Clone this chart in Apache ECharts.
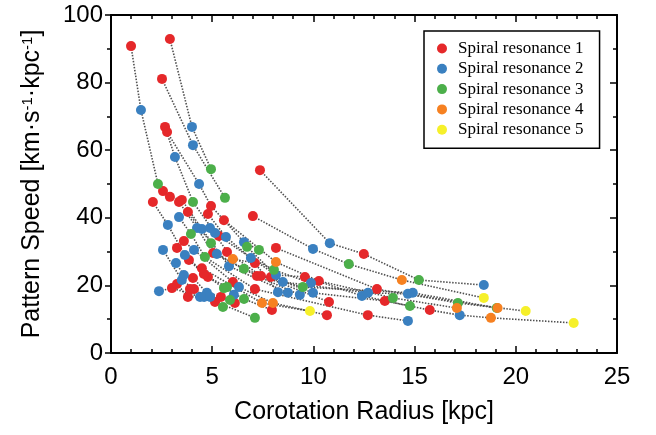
<!DOCTYPE html>
<html>
<head>
<meta charset="utf-8">
<script src="https://cdn.jsdelivr.net/npm/echarts@6/dist/echarts.min.js"></script>
<style>
  html, body { margin: 0; padding: 0; background: #fff; }
  #chart { width: 656px; height: 435px; }
</style>
</head>
<body>
<div id="chart"></div>
<script>
// [radius kpc, pattern speed, galaxy id] - points of the same galaxy are joined by a dotted line
const res1 = [
  [0.99, 90.8, 1], [2.91, 92.9, 2], [2.52, 81.1, 3], [2.67, 66.9, 4],
  [2.77, 65.4, 5], [4.94, 43.5, 5], [7.36, 54.1, 6], [12.49, 29.3, 6],
  [7.01, 40.5, 7], [5.58, 39.3, 8], [10.27, 21.3, 8], [8.15, 31.1, 9],
  [13.14, 18.9, 9], [4.79, 41.1, 10], [5.33, 34.6, 11], [9.58, 22.5, 11],
  [7.9, 22.5, 12], [13.53, 15.4, 12], [15.75, 12.7, 12], [5.73, 29.9, 14],
  [7.41, 22.8, 14], [2.57, 47.9, 15], [2.91, 46.2, 15], [3.5, 45.3, 15],
  [2.07, 44.7, 16], [4.79, 22.5, 16], [3.36, 44.7, 17], [5.04, 29.6, 17],
  [7.21, 22.8, 17], [3.8, 41.7, 18], [10.77, 15.1, 18], [7.11, 18.9, 19],
  [12.69, 11.2, 19], [3.6, 33.1, 20], [6.02, 21.0, 20], [10.67, 11.2, 20],
  [3.26, 31.1, 21], [3.85, 27.5, 21], [4.59, 23.4, 21], [7.95, 12.7, 21],
  [4.49, 25.1, 22], [4.1, 18.9, 23], [5.14, 15.1, 23], [4.05, 22.2, 24],
  [5.43, 16.6, 24], [6.12, 14.8, 24], [3.01, 19.2, 25], [3.26, 20.4, 26],
  [3.8, 16.6, 26], [7.11, 26.6, 27], [3.9, 18.9, 28]
];
const res2 = [
  [1.48, 71.9, 1], [4.0, 66.9, 2], [4.05, 61.5, 3], [3.16, 58.0, 4],
  [5.14, 35.5, 4], [4.35, 50.0, 5], [6.57, 32.8, 5], [10.81, 32.5, 6],
  [18.42, 20.1, 6], [9.98, 30.8, 7], [5.68, 34.3, 10], [6.91, 28.1, 10],
  [9.88, 20.7, 10], [8.15, 23.1, 11], [12.4, 16.9, 11], [9.98, 17.8, 12],
  [17.23, 11.2, 12], [8.49, 21.0, 13], [12.7, 17.8, 13], [14.67, 17.5, 13],
  [14.91, 17.8, 14], [4.49, 36.7, 15], [5.83, 25.7, 15], [8.74, 17.8, 15],
  [2.81, 37.9, 16], [3.65, 29.0, 16], [6.07, 17.2, 16], [4.25, 37.0, 17],
  [9.33, 17.2, 17], [5.23, 29.3, 18], [3.36, 40.2, 19], [14.67, 9.5, 19],
  [4.1, 30.5, 20], [6.32, 19.5, 20], [2.57, 30.5, 23], [3.5, 21.6, 23],
  [3.21, 26.6, 24], [3.6, 23.1, 24], [4.74, 17.8, 24], [2.37, 18.3, 25],
  [4.4, 16.6, 25], [4.6, 16.6, 26], [4.89, 37.0, 27], [8.25, 18.0, 27],
  [4.9, 16.6, 28]
];
const res3 = [
  [2.32, 50.0, 1], [4.94, 54.4, 2], [5.63, 45.9, 3], [4.05, 44.7, 4],
  [7.31, 30.5, 5], [15.21, 21.6, 6], [11.75, 26.3, 7], [13.93, 16.3, 8],
  [17.14, 14.8, 9], [8.05, 24.6, 10], [14.77, 13.9, 11], [6.72, 31.4, 13],
  [19.06, 13.3, 13], [9.48, 19.5, 14], [5.73, 19.5, 16], [4.94, 32.5, 18],
  [6.57, 24.9, 18], [3.95, 35.2, 19], [4.64, 28.4, 19], [5.58, 19.2, 21],
  [6.57, 16.0, 21], [5.53, 13.6, 23], [5.88, 15.7, 24], [7.11, 10.4, 26]
];
const res4 = [
  [14.37, 21.6, 7], [8.15, 26.9, 8], [17.09, 13.3, 8], [18.77, 10.4, 12],
  [19.1, 13.3, 14], [8.0, 14.8, 20], [7.46, 14.8, 22], [6.02, 27.8, 27]
];
const res5 = [
  [18.42, 16.3, 7], [20.49, 12.4, 9], [22.86, 8.9, 12], [9.83, 12.4, 22]
];

const names = ['Spiral resonance 1', 'Spiral resonance 2', 'Spiral resonance 3',
  'Spiral resonance 4', 'Spiral resonance 5'];
const colors = ['#e5282a', '#3a80c0', '#4caf4a', '#f68121', '#f6f02a'];
const groups = [res1, res2, res3, res4, res5];

// join each galaxy's resonances, ordered by radius
let galaxies = {};
groups.forEach(g => g.forEach(p => {
  (galaxies[p[2]] = galaxies[p[2]] || []).push([p[0], p[1]]);
}));

let series = [];
Object.keys(galaxies).forEach(id => {
  let pts = galaxies[id].sort((a, b) => a[0] - b[0]);
  series.push({
    type: 'line',
    data: pts,
    symbol: 'none',
    silent: true,
    z: 1,
    lineStyle: { color: '#505050', width: 1.6, type: [1.5, 1.5] }
  });
});
groups.forEach((g, i) => {
  series.push({
    name: names[i],
    type: 'scatter',
    data: g.map(p => [p[0], p[1]]),
    symbol: 'circle',
    symbolSize: 10,
    z: 3,
    itemStyle: { color: colors[i], opacity: 1 }
  });
});

const sans = 'Liberation Sans';
const line = { show: true, onZero: false, lineStyle: { color: '#000', width: 2 } };

let chart = echarts.init(document.getElementById('chart'));
chart.setOption({
  animation: false,
  grid: { left: 111, right: 39, top: 15, bottom: 82 },
  legend: {
    data: names,
    orient: 'vertical',
    left: 424,
    top: 31,
    padding: [9, 16, 10, 13],
    itemWidth: 22,
    itemHeight: 10,
    itemGap: 3.3,
    icon: 'circle',
    backgroundColor: '#fff',
    borderColor: '#000',
    borderWidth: 1.5,
    textStyle: { fontFamily: 'Liberation Serif', fontSize: 17, color: '#000', lineHeight: 17 }
  },
  xAxis: [{
    type: 'value', min: 0, max: 25, interval: 5,
    name: 'Corotation Radius [kpc]',
    nameLocation: 'middle', nameGap: 47,
    nameTextStyle: { fontFamily: sans, fontSize: 25, color: '#000' },
    axisLine: line,
    axisTick: { inside: true, length: 7, lineStyle: { color: '#000', width: 1.5 } },
    minorTick: { show: true, splitNumber: 5, length: 4, lineStyle: { color: '#000', width: 1.5 } },
    splitLine: { show: false },
    axisLabel: { fontFamily: sans, fontSize: 24, color: '#000', margin: 12 }
  }, {
    type: 'value', min: 0, max: 25, interval: 5, position: 'top',
    axisLine: line,
    axisTick: { inside: true, length: 7, lineStyle: { color: '#000', width: 1.5 } },
    minorTick: { show: true, splitNumber: 5, length: 4, lineStyle: { color: '#000', width: 1.5 } },
    splitLine: { show: false },
    axisLabel: { show: false }
  }],
  yAxis: [{
    type: 'value', min: 0, max: 100, interval: 20,
    name: '{a|Pattern Speed [km·s}{s|-1}{a|·kpc}{s|-1}{a|]}',
    nameLocation: 'middle', nameGap: 66,
    nameTextStyle: {
      color: '#000',
      rich: {
        a: { fontFamily: sans, fontSize: 25, color: '#000', verticalAlign: 'bottom' },
        s: { fontFamily: sans, fontSize: 15, color: '#000', verticalAlign: 'top' }
      }
    },
    axisLine: line,
    axisTick: { inside: false, length: 6, lineStyle: { color: '#000', width: 1.5 } },
    minorTick: { show: true, splitNumber: 2, length: 4, lineStyle: { color: '#000', width: 1.5 } },
    splitLine: { show: false },
    axisLabel: { fontFamily: sans, fontSize: 24, color: '#000', margin: 8 }
  }, {
    type: 'value', min: 0, max: 100, interval: 20, position: 'right',
    axisLine: line,
    axisTick: { inside: true, length: 7, lineStyle: { color: '#000', width: 1.5 } },
    minorTick: { show: true, splitNumber: 2, length: 4, lineStyle: { color: '#000', width: 1.5 } },
    splitLine: { show: false },
    axisLabel: { show: false }
  }],
  series: series
});
</script>
</body>
</html>
